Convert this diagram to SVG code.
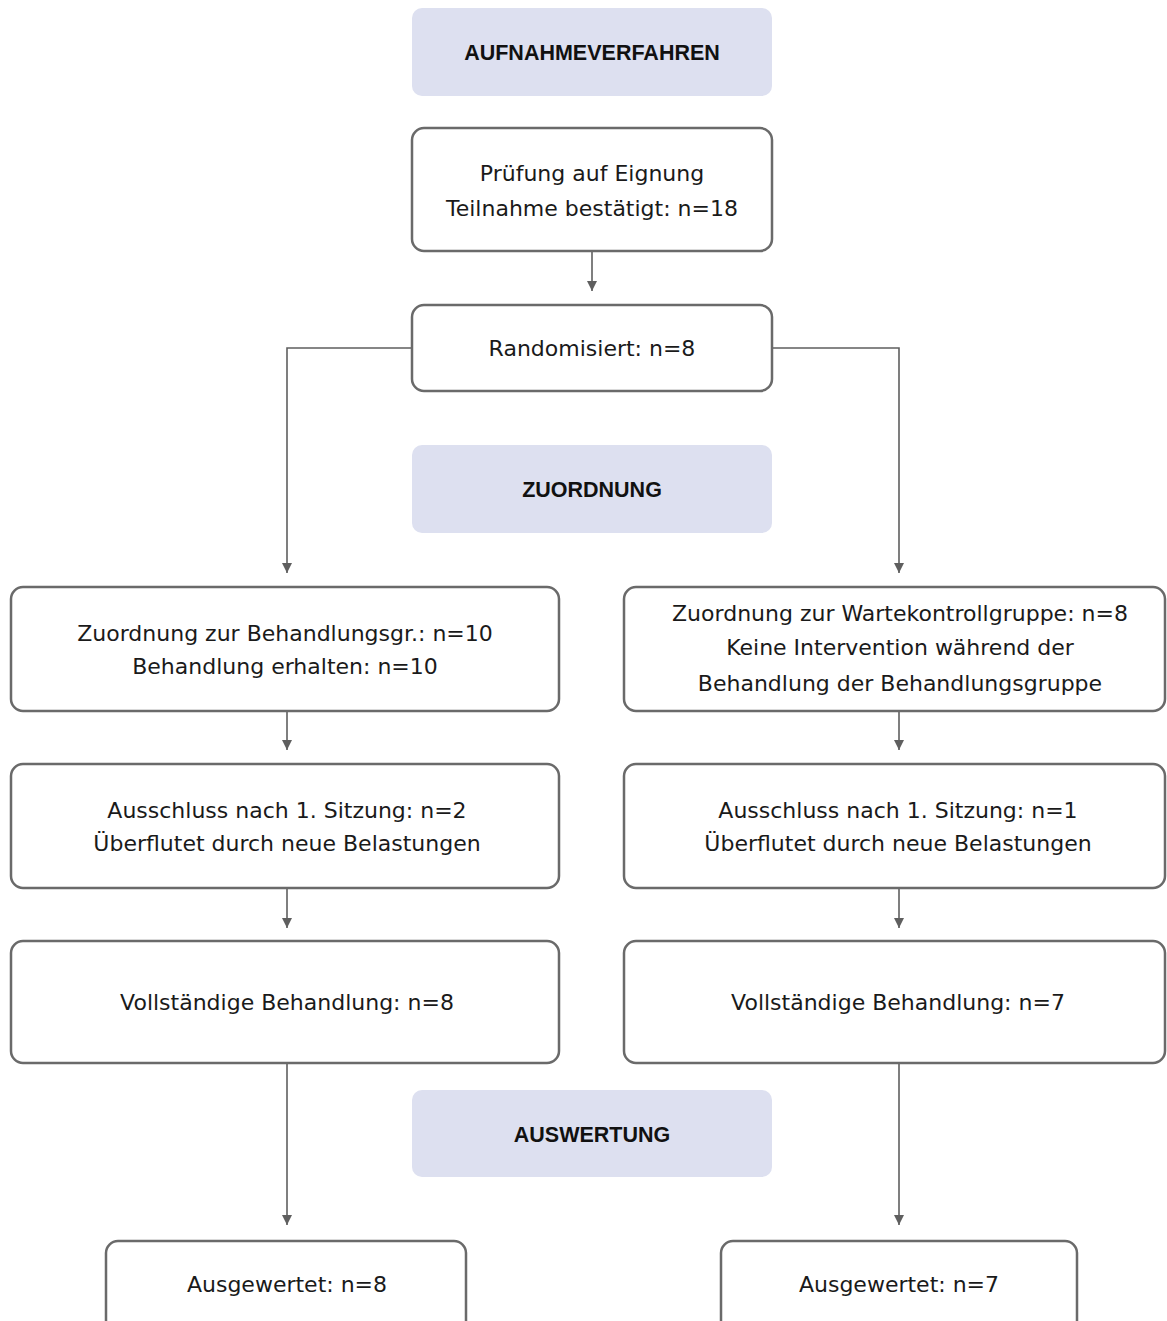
<svg xmlns="http://www.w3.org/2000/svg" width="1167" height="1321" viewBox="0 0 1167 1321">
<defs>
<marker id="ah" viewBox="0 0 10 10" refX="10" refY="5" markerWidth="10" markerHeight="10" markerUnits="userSpaceOnUse" orient="auto">
<path d="M0,0 L10,5 L0,10 z" fill="#5f5f5f"/>
</marker>
<style>
.hdr{fill:#dde0f0;stroke:none}
.box{fill:#ffffff;stroke:#6a6a6a;stroke-width:2.5}
.t{font-family:"DejaVu Sans","Liberation Sans",sans-serif;font-size:22px;fill:#1a1a1a;text-anchor:middle}
.h{font-family:"Liberation Sans","DejaVu Sans",sans-serif;font-size:21.5px;font-weight:bold;fill:#111111;text-anchor:middle}
.c{fill:none;stroke:#5f5f5f;stroke-width:1.6}
</style>
</defs>
<rect width="1167" height="1321" fill="#ffffff"/>
<g id="connectors">
<path class="c" d="M592,252 V291" marker-end="url(#ah)"/>
<path class="c" d="M412,348 H287 V573" marker-end="url(#ah)"/>
<path class="c" d="M772,348 H899 V573" marker-end="url(#ah)"/>
<path class="c" d="M287,711 V750" marker-end="url(#ah)"/>
<path class="c" d="M899,711 V750" marker-end="url(#ah)"/>
<path class="c" d="M287,888 V928" marker-end="url(#ah)"/>
<path class="c" d="M899,888 V928" marker-end="url(#ah)"/>
<path class="c" d="M287,1063 V1225" marker-end="url(#ah)"/>
<path class="c" d="M899,1063 V1225" marker-end="url(#ah)"/>
</g>
<g id="hdr-aufnahme">
<rect class="hdr" x="412" y="8" width="360" height="88" rx="10"/>
<text class="h" x="592" y="60">AUFNAHMEVERFAHREN</text>
</g>
<g id="pruefung">
<rect class="box" x="412" y="128" width="360" height="123" rx="12"/>
<text class="t" x="592" y="181">Prüfung auf Eignung</text>
<text class="t" x="592" y="216">Teilnahme bestätigt: n=18</text>
</g>
<g id="randomisiert">
<rect class="box" x="412" y="305" width="360" height="86" rx="12"/>
<text class="t" x="592" y="356">Randomisiert: n=8</text>
</g>
<g id="hdr-zuordnung">
<rect class="hdr" x="412" y="445" width="360" height="88" rx="10"/>
<text class="h" x="592" y="497">ZUORDNUNG</text>
</g>
<g id="zuordnung-behandlung">
<rect class="box" x="11" y="587" width="548" height="124" rx="12"/>
<text class="t" x="285" y="641">Zuordnung zur Behandlungsgr.: n=10</text>
<text class="t" x="285" y="674">Behandlung erhalten: n=10</text>
</g>
<g id="zuordnung-warte">
<rect class="box" x="624" y="587" width="541" height="124" rx="12"/>
<text class="t" x="900" y="621">Zuordnung zur Wartekontrollgruppe: n=8</text>
<text class="t" x="900" y="655">Keine Intervention während der</text>
<text class="t" x="900" y="691">Behandlung der Behandlungsgruppe</text>
</g>
<g id="ausschluss-links">
<rect class="box" x="11" y="764" width="548" height="124" rx="12"/>
<text class="t" x="287" y="818">Ausschluss nach 1. Sitzung: n=2</text>
<text class="t" x="287" y="851">Überflutet durch neue Belastungen</text>
</g>
<g id="ausschluss-rechts">
<rect class="box" x="624" y="764" width="541" height="124" rx="12"/>
<text class="t" x="898" y="818">Ausschluss nach 1. Sitzung: n=1</text>
<text class="t" x="898" y="851">Überflutet durch neue Belastungen</text>
</g>
<g id="vollstaendig-links">
<rect class="box" x="11" y="941" width="548" height="122" rx="12"/>
<text class="t" x="287" y="1010">Vollständige Behandlung: n=8</text>
</g>
<g id="vollstaendig-rechts">
<rect class="box" x="624" y="941" width="541" height="122" rx="12"/>
<text class="t" x="898" y="1010">Vollständige Behandlung: n=7</text>
</g>
<g id="hdr-auswertung">
<rect class="hdr" x="412" y="1090" width="360" height="87" rx="10"/>
<text class="h" x="592" y="1142">AUSWERTUNG</text>
</g>
<g id="ausgewertet-links">
<rect class="box" x="106" y="1241" width="360" height="110" rx="12"/>
<text class="t" x="287" y="1292">Ausgewertet: n=8</text>
</g>
<g id="ausgewertet-rechts">
<rect class="box" x="721" y="1241" width="356" height="110" rx="12"/>
<text class="t" x="899" y="1292">Ausgewertet: n=7</text>
</g>
</svg>
